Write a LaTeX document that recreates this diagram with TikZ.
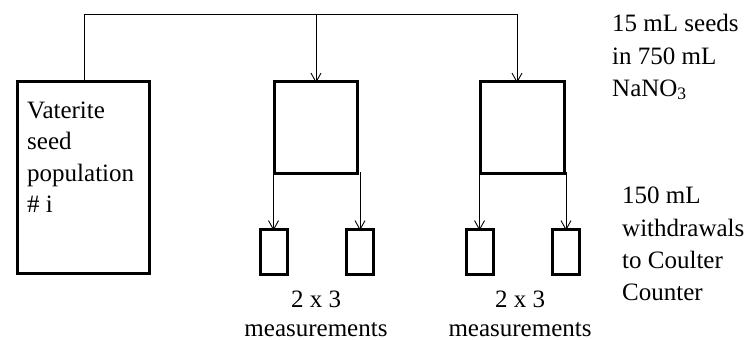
\documentclass[tikz,border=0pt]{standalone}
\usepackage{fontspec}
\setmainfont{Liberation Serif}
\usetikzlibrary{arrows.meta}
\begin{document}
\begin{tikzpicture}[x=1pt,y=-1pt,
  thickbox/.style={draw=black,line width=3pt,inner sep=0pt,outer sep=0pt},
  conn/.style={draw=black,line width=0.9pt},
  arr/.style={conn,-{Straight Barb[length=9pt,width=10pt,line width=0.9pt]}},
  lbl/.style={font=\fontsize{25}{32}\selectfont,inner sep=0pt,anchor=base west},
  clbl/.style={font=\fontsize{25}{32}\selectfont,inner sep=0pt,anchor=base}]
\useasboundingbox (0,0) rectangle (750,340);
% boxes
\node[thickbox,minimum width=132pt,minimum height=192pt] (seed) at (83.5,177.5) {};
\node[thickbox,minimum width=83pt,minimum height=92pt] (b1) at (316,127.5) {};
\node[thickbox,minimum width=84pt,minimum height=92pt] (b2) at (522.5,127.5) {};
\node[thickbox,minimum width=27pt,minimum height=45pt] (s1) at (273.5,251.5) {};
\node[thickbox,minimum width=27pt,minimum height=45pt] (s2) at (360,251.5) {};
\node[thickbox,minimum width=27pt,minimum height=45pt] (s3) at (479.5,251.5) {};
\node[thickbox,minimum width=27pt,minimum height=45pt] (s4) at (566,251.5) {};
% top connectors
\coordinate (tl) at (84,14);
\coordinate (tr) at (517,14);
\coordinate (tm) at (316,14);
\draw[conn] (seed.north -| tl) -- (tl) -- (tr);
\draw[arr] (tm) -- ([yshift=-1.5pt]b1.north);
\draw[arr] (tr) -- ([yshift=-1.5pt]tr |- b2.north);
% withdrawal arrows
\draw[arr] ([yshift=1.5pt]s1.north |- b1.south) -- ([yshift=-1.5pt]s1.north);
\draw[arr] ([yshift=1.5pt]s2.north |- b1.south) -- ([yshift=-1.5pt]s2.north);
\draw[arr] ([yshift=1.5pt]s3.north |- b2.south) -- ([yshift=-1.5pt]s3.north);
\draw[arr] ([yshift=1.5pt]s4.north |- b2.south) -- ([yshift=-1.5pt]s4.north);
% texts
\node[lbl] (t1a) at (27,118) {Vaterite};
\node[lbl] (t1b) at (27,149.5) {seed};
\node[lbl] (t1c) at (27,181) {population};
\node[lbl] (t1d) at (27,212.5) {\# i};
\node[lbl] (t2a) at (612,31) {15 mL seeds};
\node[lbl] (t2b) at (612,64) {in 750 mL};
\node[lbl] (t2c) at (612,96) {NaNO\textsubscript{3}};
\node[lbl] (t3a) at (622,203) {150 mL};
\node[lbl] (t3b) at (622,236) {withdrawals};
\node[lbl] (t3c) at (622,268.5) {to Coulter};
\node[lbl] (t3d) at (622,300) {Counter};
\node[clbl] (m1a) at (316,307) {2 x 3};
\node[clbl] (m1b) at (316,336) {measurements};
\node[clbl] (m2a) at (520,307) {2 x 3};
\node[clbl] (m2b) at (520,336) {measurements};
\end{tikzpicture}
\end{document}
